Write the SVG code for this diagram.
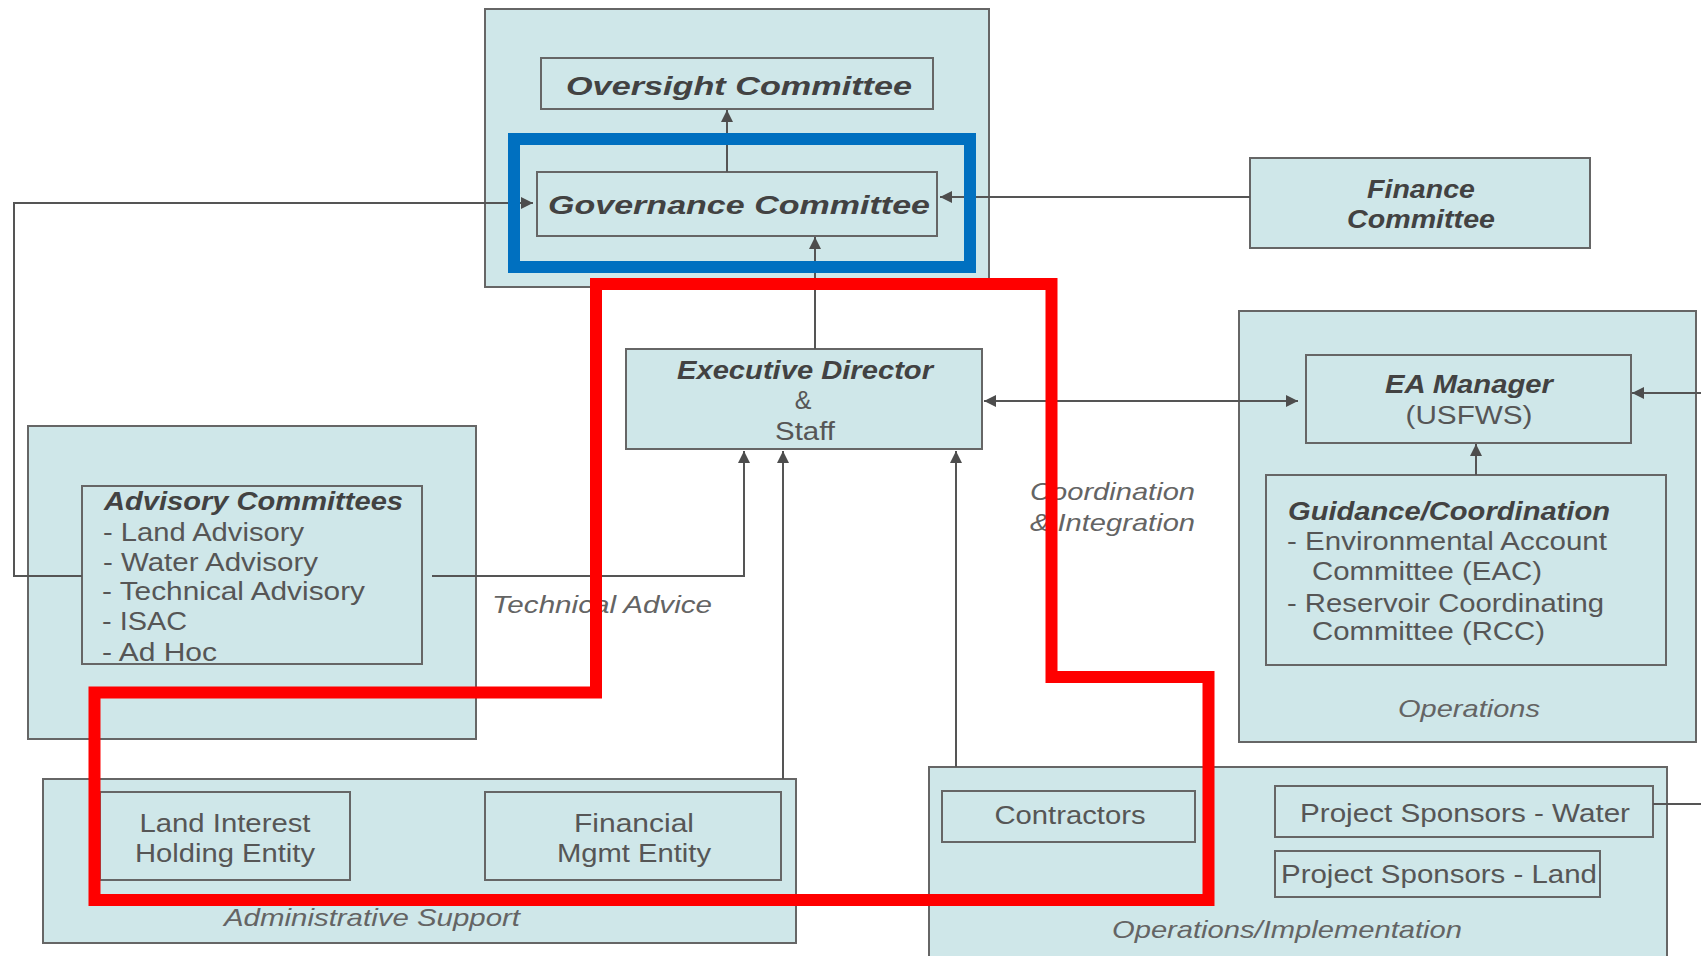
<svg xmlns="http://www.w3.org/2000/svg" width="1701" height="956" viewBox="0 0 1701 956">
<style>
.box{fill:#cfe7e9;stroke:#666;stroke-width:2}
.ln{fill:none;stroke:#555;stroke-width:2}
.t{font-family:"Liberation Sans",Arial,sans-serif;fill:#565656;font-size:25px}
.b{font-weight:bold;font-style:italic;fill:#424242}
.i{font-style:italic;fill:#646464;font-size:24px}
.m{text-anchor:middle}
</style>
<defs>
<marker id="ah" viewBox="0 0 12 12" refX="12" refY="6" markerWidth="12" markerHeight="12" markerUnits="userSpaceOnUse" orient="auto-start-reverse">
<path d="M0,0 L12,6 L0,12 z" fill="#4d4d4d"/>
</marker>
</defs>
<rect width="1701" height="956" fill="#fff"/>

<g id="top-group"><rect class="box" x="485" y="9" width="504" height="278"/></g>
<g id="advisory-group"><rect class="box" x="28" y="426" width="448" height="313"/></g>
<g id="operations-group"><rect class="box" x="1239" y="311" width="457" height="431"/>
<text class="t i m" x="1469" y="717" textLength="142" lengthAdjust="spacingAndGlyphs">Operations</text></g>
<g id="admin-group"><rect class="box" x="43" y="779" width="753" height="164"/>
<text class="t i m" x="372" y="926" textLength="296" lengthAdjust="spacingAndGlyphs">Administrative Support</text></g>
<g id="opsimpl-group"><rect class="box" x="929" y="767" width="738" height="200"/>
<text class="t i m" x="1287" y="938" textLength="350" lengthAdjust="spacingAndGlyphs">Operations/Implementation</text></g>

<g id="oversight"><rect class="box" x="541" y="58" width="392" height="51"/>
<text class="t b m" x="739" y="95" font-size="30" textLength="346" lengthAdjust="spacingAndGlyphs">Oversight Committee</text></g>
<g id="governance"><rect class="box" x="537" y="172" width="400" height="64"/>
<text class="t b m" x="739" y="214" font-size="30" textLength="382" lengthAdjust="spacingAndGlyphs">Governance Committee</text></g>
<g id="finance"><rect class="box" x="1250" y="158" width="340" height="90"/>
<text class="t b m" x="1421" y="198" textLength="108" lengthAdjust="spacingAndGlyphs">Finance</text>
<text class="t b m" x="1421" y="228" textLength="148" lengthAdjust="spacingAndGlyphs">Committee</text></g>
<g id="executive"><rect class="box" x="626" y="349" width="356" height="100"/>
<text class="t b m" x="805" y="379" font-size="23" textLength="256" lengthAdjust="spacingAndGlyphs">Executive Director</text>
<text class="t m" x="803" y="409" font-size="24">&amp;</text>
<text class="t m" x="805" y="440" font-size="24" textLength="60" lengthAdjust="spacingAndGlyphs">Staff</text></g>
<g id="advisory"><rect class="box" x="82" y="486" width="340" height="178"/>
<text class="t b" x="104" y="510" textLength="299" lengthAdjust="spacingAndGlyphs">Advisory Committees</text>
<text class="t" x="103" y="541" textLength="201" lengthAdjust="spacingAndGlyphs">- Land Advisory</text>
<text class="t" x="103" y="571" textLength="215" lengthAdjust="spacingAndGlyphs">- Water Advisory</text>
<text class="t" x="102" y="600" textLength="263" lengthAdjust="spacingAndGlyphs">- Technical Advisory</text>
<text class="t" x="102" y="630" textLength="85" lengthAdjust="spacingAndGlyphs">- ISAC</text>
<text class="t" x="102" y="661" textLength="115" lengthAdjust="spacingAndGlyphs">- Ad Hoc</text></g>
<g id="ea-manager"><rect class="box" x="1306" y="355" width="325" height="88"/>
<text class="t b m" x="1469" y="393" font-size="23" textLength="168" lengthAdjust="spacingAndGlyphs">EA Manager</text>
<text class="t m" x="1469" y="424" font-size="24" textLength="127" lengthAdjust="spacingAndGlyphs">(USFWS)</text></g>
<g id="guidance"><rect class="box" x="1266" y="475" width="400" height="190"/>
<text class="t b" x="1288" y="520" font-size="23" textLength="322" lengthAdjust="spacingAndGlyphs">Guidance/Coordination</text>
<text class="t" x="1287" y="550" font-size="24" textLength="320" lengthAdjust="spacingAndGlyphs">- Environmental Account</text>
<text class="t" x="1312" y="580" font-size="24" textLength="230" lengthAdjust="spacingAndGlyphs">Committee (EAC)</text>
<text class="t" x="1287" y="612" font-size="24" textLength="317" lengthAdjust="spacingAndGlyphs">- Reservoir Coordinating</text>
<text class="t" x="1312" y="640" font-size="24" textLength="233" lengthAdjust="spacingAndGlyphs">Committee (RCC)</text></g>
<g id="land-interest"><rect class="box" x="100" y="792" width="250" height="88"/>
<text class="t m" x="225" y="832" textLength="171" lengthAdjust="spacingAndGlyphs">Land Interest</text>
<text class="t m" x="225" y="862" textLength="180" lengthAdjust="spacingAndGlyphs">Holding Entity</text></g>
<g id="financial-mgmt"><rect class="box" x="485" y="792" width="296" height="88"/>
<text class="t m" x="634" y="832" textLength="120" lengthAdjust="spacingAndGlyphs">Financial</text>
<text class="t m" x="634" y="862" textLength="154" lengthAdjust="spacingAndGlyphs">Mgmt Entity</text></g>
<g id="contractors"><rect class="box" x="942" y="791" width="253" height="51"/>
<text class="t m" x="1070" y="824" textLength="151" lengthAdjust="spacingAndGlyphs">Contractors</text></g>
<g id="ps-water"><rect class="box" x="1275" y="786" width="378" height="51"/>
<text class="t m" x="1465" y="822" textLength="330" lengthAdjust="spacingAndGlyphs">Project Sponsors - Water</text></g>
<g id="ps-land"><rect class="box" x="1275" y="851" width="325" height="46"/>
<text class="t m" x="1439" y="883" textLength="316" lengthAdjust="spacingAndGlyphs">Project Sponsors - Land</text></g>

<g id="connectors">
<path class="ln" d="M727,172 V110" marker-end="url(#ah)"/>
<path class="ln" d="M815,349 V237" marker-end="url(#ah)"/>
<path class="ln" d="M1250,197 H940" marker-end="url(#ah)"/>
<path class="ln" d="M82,576 H14 V203 H533" marker-end="url(#ah)"/>
<path class="ln" d="M432,576 H744 V451" marker-end="url(#ah)"/>
<path class="ln" d="M783,779 V451" marker-end="url(#ah)"/>
<path class="ln" d="M956,767 V451" marker-end="url(#ah)"/>
<path class="ln" d="M984,401 H1298" marker-start="url(#ah)" marker-end="url(#ah)"/>
<path class="ln" d="M1476,475 V444" marker-end="url(#ah)"/>
<path class="ln" d="M1701,393 H1632" marker-end="url(#ah)"/>
<path class="ln" d="M1653,804 H1701"/>
<text class="t i" x="492" y="613" textLength="220" lengthAdjust="spacingAndGlyphs">Technical Advice</text>
<text class="t i" x="1030" y="500" textLength="165" lengthAdjust="spacingAndGlyphs">Coordination</text>
<text class="t i" x="1030" y="531" textLength="165" lengthAdjust="spacingAndGlyphs">&amp; Integration</text>
</g>

<g id="highlights">
<rect x="514" y="139" width="456" height="128" fill="none" stroke="#0070c0" stroke-width="12"/>
<path d="M596,284 H1051.5 V677 H1208.5 V900 H94.5 V692.5 H596 Z" fill="none" stroke="#ff0000" stroke-width="12"/>
</g>
</svg>
